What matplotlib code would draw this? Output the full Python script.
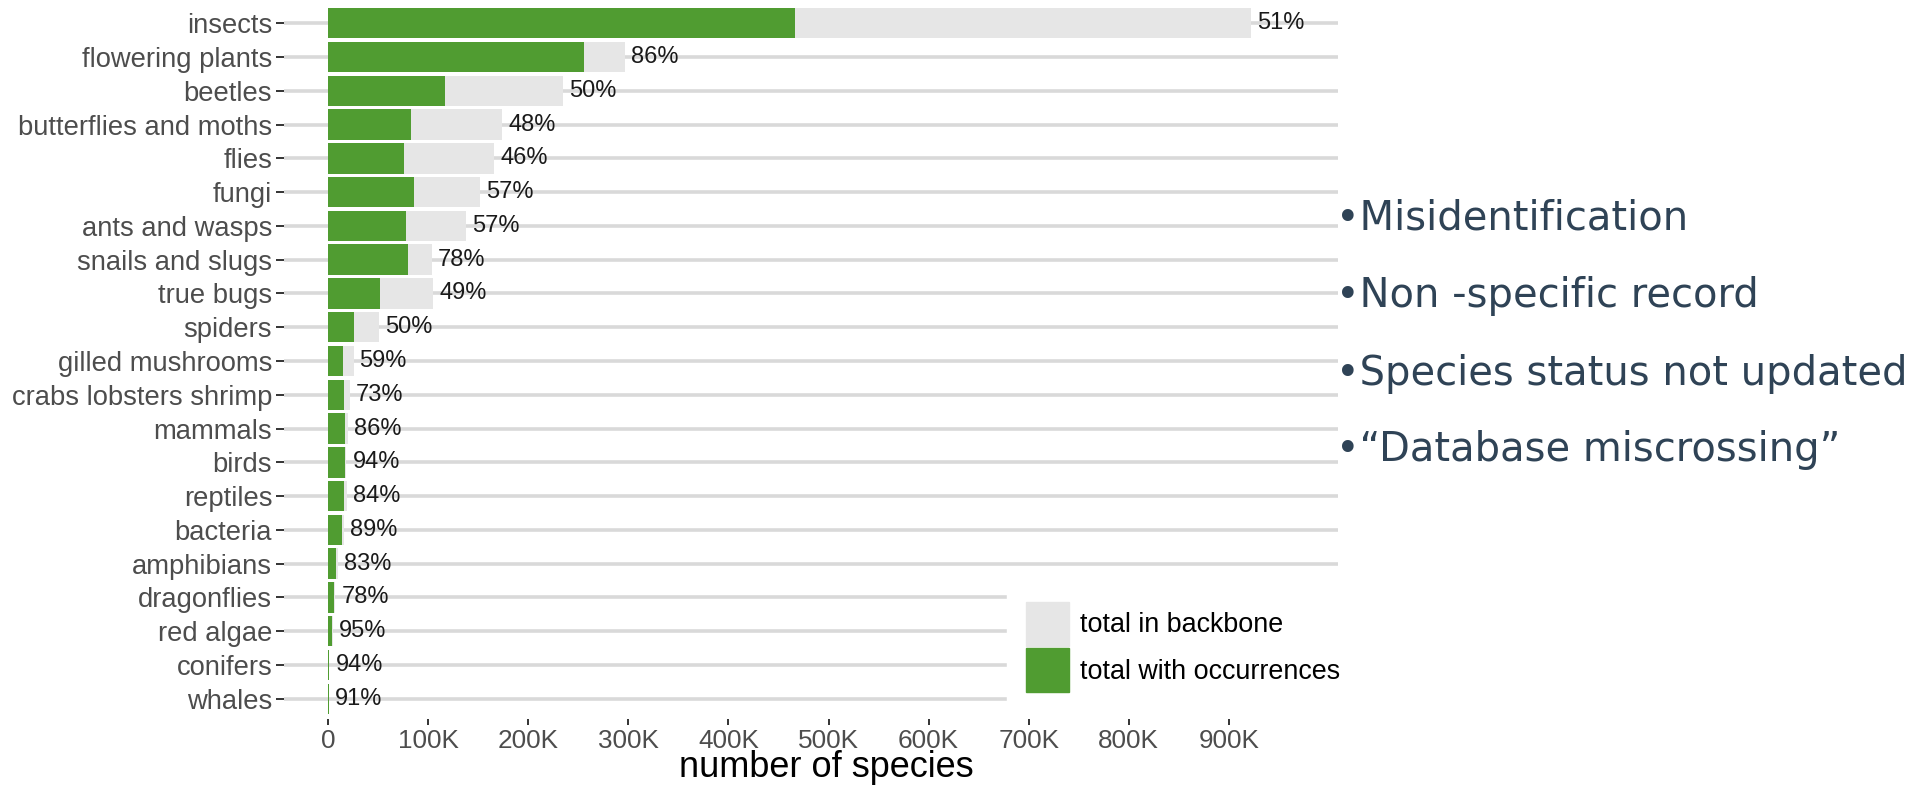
import matplotlib
matplotlib.use("Agg")
import matplotlib.pyplot as plt
import matplotlib.patches as mpatches
from matplotlib.ticker import FuncFormatter
import numpy as np

# species groups, top to bottom
categories = ["insects", "flowering plants", "beetles", "butterflies and moths",
              "flies", "fungi", "ants and wasps", "snails and slugs", "true bugs",
              "spiders", "gilled mushrooms", "crabs lobsters shrimp", "mammals",
              "birds", "reptiles", "bacteria", "amphibians", "dragonflies",
              "red algae", "conifers", "whales"]
total_backbone = [922000, 297000, 235000, 174000, 166000, 152000, 138000, 104000,
                  105000, 51000, 25500, 21500, 19500, 18400, 19000, 16000, 9600,
                  7400, 4700, 1400, 550]
total_occ = [467000, 256000, 117000, 83000, 76000, 86000, 78000, 80000, 52000,
             25500, 15000, 15700, 16800, 17300, 16000, 14200, 8000, 5800, 4450,
             1300, 500]
pct_labels = ["51%", "86%", "50%", "48%", "46%", "57%", "57%", "78%", "49%", "50%",
              "59%", "73%", "86%", "94%", "84%", "89%", "83%", "78%", "95%", "94%",
              "91%"]
x_ticks = [0, 100000, 200000, 300000, 400000, 500000, 600000, 700000, 800000, 900000]
notes = ["\u2022Misidentification", "\u2022Non -specific record",
         "\u2022Species status not updated", "\u2022\u201cDatabase miscrossing\u201d"]

green = "#509C31"
grey = "#E6E6E6"

plt.rcParams["font.family"] = ["Liberation Sans", "DejaVu Sans"]

fig = plt.figure(figsize=(19.2, 7.86), dpi=100)
ax = fig.add_axes([284 / 1920, 67 / 786, 1054 / 1920, 716 / 786])

y = np.arange(len(categories))
ax.barh(y, total_backbone, height=0.9, color=grey, zorder=2, label="total in backbone")
ax.barh(y, total_occ, height=0.9, color=green, zorder=3, label="total with occurrences")

for yi, tot, lab in zip(y, total_backbone, pct_labels):
    ax.text(tot + 6000, yi, lab, va="center", ha="left", fontsize=17,
            color="#1A1A1A", zorder=4)

# horizontal grid only
for yi in y:
    ax.axhline(yi, color="#D9D9D9", lw=2.6, zorder=1)

ax.set_xlim(-44000, 1009000)
ax.set_ylim(len(categories) - 1 + 0.6, -0.6)
ax.set_yticks(y)
ax.set_yticklabels(categories, fontsize=19.7, color="#4D4D4D")
ax.set_xticks(x_ticks)
ax.xaxis.set_major_formatter(FuncFormatter(lambda v, p: "0" if v == 0 else f"{int(v/1000)}K"))
ax.tick_params(axis="x", labelsize=18.8, labelcolor="#4D4D4D", length=4.0,
               width=1.4, color="#333333", pad=3.5)
ax.tick_params(axis="y", length=5.5, width=1.4, color="#333333", pad=3)
ax.set_xlabel("number of species", fontsize=26, color="black")
ax.xaxis.label.set_va("baseline")
ax.xaxis.set_label_coords(0.515, -58 / 716)
for s in ax.spines.values():
    s.set_visible(False)

handles = [mpatches.Patch(color=grey), mpatches.Patch(color=green)]
leg = ax.legend(handles, ["total in backbone", "total with occurrences"],
                loc="upper left", bbox_to_anchor=(0.686, 0.19), borderaxespad=0,
                fontsize=19.4, frameon=True, fancybox=False, framealpha=1,
                edgecolor="white", handlelength=1.6, handleheight=2.13,
                handletextpad=0.4, labelspacing=0.1, borderpad=0.7)
leg.set_zorder(10)

ys = [218, 296, 374, 450]
for t, yy in zip(notes, ys):
    fig.text(1336 / 1920, 1 - yy / 786, t, fontsize=28.8, color="#2F4356",
             family="DejaVu Sans", va="center", ha="left")

fig.savefig("out.png", dpi=100)
